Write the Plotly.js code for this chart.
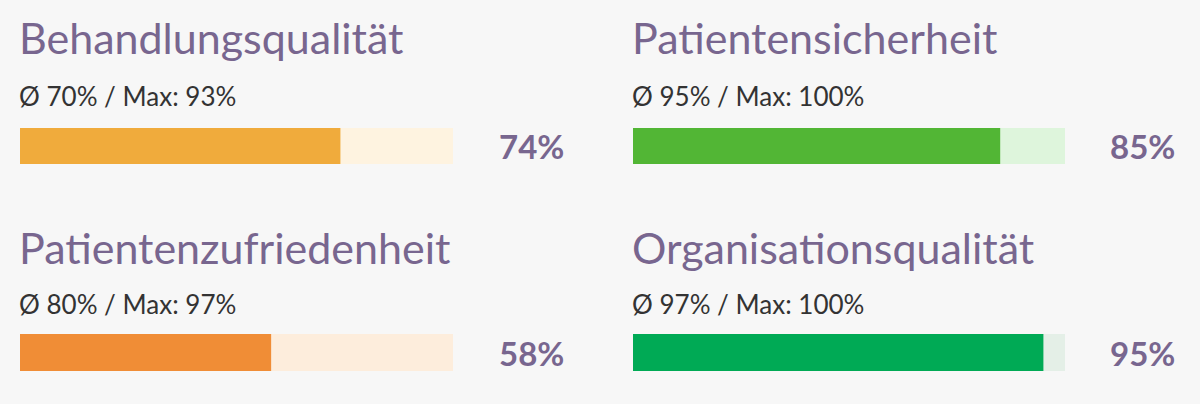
<!DOCTYPE html>
<html>
<head>
<meta charset="utf-8">
<script src="https://cdn.plot.ly/plotly-3.0.1.min.js"></script>
<style>
html,body{margin:0;padding:0;background:#f7f7f7;}
#chart{width:1200px;height:404px;}
</style>
</head>
<body>
<div id="chart"></div>
<script>
const categories = ['Behandlungsqualität', 'Patientensicherheit', 'Patientenzufriedenheit', 'Organisationsqualität'];
const values = [74, 85, 58, 95];
const averages = [70, 95, 80, 97];
const maxima = [93, 100, 97, 100];
const scaleMax = 100;
const barColors = ['#f0ab3c', '#52b635', '#f08d36', '#00aa55'];
const trackColors = ['#fef3e0', '#def5dc', '#fdeddc', '#e4efe7'];

const W = 1200, H = 404;
const colX = [[20, 453], [633, 1065]];
const rowY = [[128, 164], [334, 371]];
const titleY = [38, 247];
const subY = [96, 304];
const labelX = [531, 1142];
const px = v => v / W;
const py = v => (H - v) / H;

const FONT = 'Lato, "Open Sans", sans-serif';
const traces = [];
const layout = {
  width: W, height: H,
  margin: {l: 0, r: 0, t: 0, b: 0},
  paper_bgcolor: '#f7f7f7',
  plot_bgcolor: 'rgba(0,0,0,0)',
  barmode: 'overlay',
  showlegend: false,
  annotations: []
};

categories.forEach((cat, i) => {
  const col = i % 2, row = Math.floor(i / 2);
  const n = i + 1;
  const sfx = n === 1 ? '' : String(n);
  const xa = 'x' + sfx, ya = 'y' + sfx;
  traces.push({
    type: 'bar', orientation: 'h', x: [scaleMax], y: [0], width: 1,
    marker: {color: trackColors[i]}, xaxis: xa, yaxis: ya, hoverinfo: 'skip'
  });
  traces.push({
    type: 'bar', orientation: 'h', x: [values[i]], y: [0], width: 1,
    marker: {color: barColors[i]}, xaxis: xa, yaxis: ya, name: cat,
    hovertemplate: cat + ': %{x}%<extra></extra>'
  });
  layout['xaxis' + sfx] = {domain: [px(colX[col][0]), px(colX[col][1])], range: [0, scaleMax],
    showgrid: false, zeroline: false, showticklabels: false, showline: false, fixedrange: true, anchor: ya};
  layout['yaxis' + sfx] = {domain: [py(rowY[row][1]), py(rowY[row][0])], range: [-0.5, 0.5],
    showgrid: false, zeroline: false, showticklabels: false, showline: false, fixedrange: true, anchor: xa};

  layout.annotations.push({
    xref: 'paper', yref: 'paper', x: px(colX[col][0] - 3), y: py(titleY[row]),
    xanchor: 'left', yanchor: 'middle', showarrow: false, text: cat,
    font: {family: FONT, size: 43, color: '#78668f'}
  });
  layout.annotations.push({
    xref: 'paper', yref: 'paper', x: px(colX[col][0] - 3), y: py(subY[row]),
    xanchor: 'left', yanchor: 'middle', showarrow: false,
    text: 'Ø ' + averages[i] + '% / Max: ' + maxima[i] + '%',
    font: {family: FONT, size: 26, color: '#333333'}
  });
  layout.annotations.push({
    xref: 'paper', yref: 'paper', x: px(labelX[col]), y: py((rowY[row][0] + rowY[row][1]) / 2),
    xanchor: 'center', yanchor: 'middle', showarrow: false,
    text: '<b>' + values[i] + '%</b>',
    font: {family: FONT, size: 33, color: '#78668f'}
  });
});

Plotly.newPlot('chart', traces, layout, {displayModeBar: false, staticPlot: true});
</script>
</body>
</html>
